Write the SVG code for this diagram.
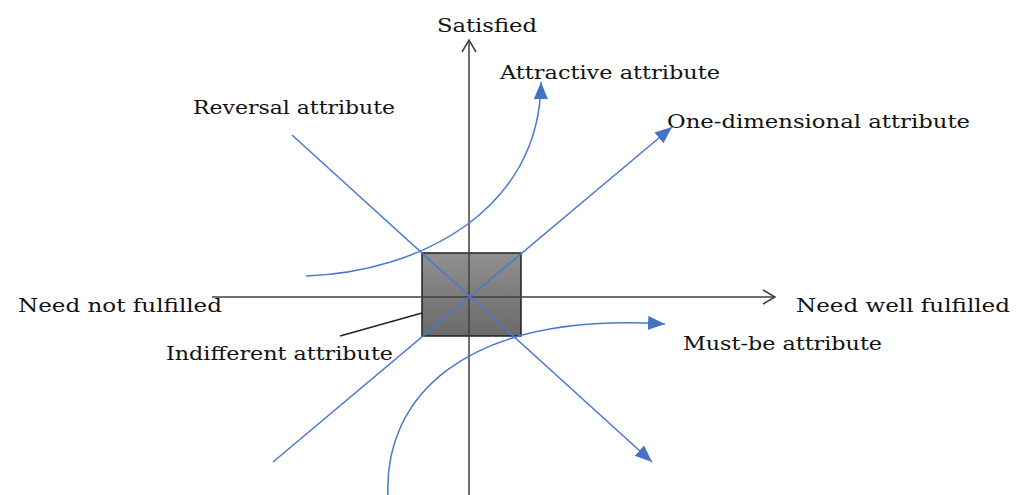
<svg xmlns="http://www.w3.org/2000/svg" width="1025" height="495" viewBox="0 0 1025 495">
<style>
text{font-family:"DejaVu Serif","Liberation Serif",serif;font-size:19px;fill:#111}
.axis{stroke:#404040;stroke-width:1.5;fill:none}
.blue{stroke:#4a78cc;stroke-width:1.5;fill:none}
</style>
<defs>
<linearGradient id="g" x1="0" y1="0" x2="0" y2="1">
<stop offset="0" stop-color="#909090"/>
<stop offset="1" stop-color="#6a6a6a"/>
</linearGradient>
<marker id="open" markerWidth="16" markerHeight="16" refX="13" refY="8" orient="auto" markerUnits="userSpaceOnUse">
<path d="M1,1 L13,8 L1,15" fill="none" stroke="#404040" stroke-width="1.5"/>
</marker>
<marker id="fill" markerWidth="20" markerHeight="20" refX="17" refY="10" orient="auto" markerUnits="userSpaceOnUse">
<path d="M0,3 L17,10 L0,17 Z" fill="#4472c4"/>
</marker>
</defs>
<g id="box"><rect x="422" y="253" width="99" height="83" fill="url(#g)" stroke="#222" stroke-width="1.5"/></g>
<g id="connectors">
<line class="axis" x1="212" y1="297" x2="775" y2="297" marker-end="url(#open)"/>
<line class="axis" x1="469" y1="495" x2="469" y2="40" marker-end="url(#open)"/>
<line x1="340" y1="336" x2="422" y2="313" stroke="#222" stroke-width="1.5"/>
<line class="blue" x1="292" y1="135" x2="652" y2="462" marker-end="url(#fill)"/>
<line class="blue" x1="273" y1="462" x2="672" y2="127" marker-end="url(#fill)"/>
<path class="blue" d="M306,276 C420,272 540,210 541,82" marker-end="url(#fill)"/>
<path class="blue" d="M388,495 C384,400 460,312 665,324" marker-end="url(#fill)"/>
</g>
<g id="satisfied"><text x="437" y="32" textLength="100" lengthAdjust="spacingAndGlyphs">Satisfied</text></g>
<g id="attractive"><text x="500" y="79" textLength="220" lengthAdjust="spacingAndGlyphs">Attractive attribute</text></g>
<g id="reversal"><text x="193" y="114" textLength="202" lengthAdjust="spacingAndGlyphs">Reversal attribute</text></g>
<g id="onedim"><text x="667" y="128" textLength="303" lengthAdjust="spacingAndGlyphs">One-dimensional attribute</text></g>
<g id="notfulfilled"><text x="18" y="312" textLength="204" lengthAdjust="spacingAndGlyphs">Need not fulfilled</text></g>
<g id="wellfulfilled"><text x="796" y="312" textLength="214" lengthAdjust="spacingAndGlyphs">Need well fulfilled</text></g>
<g id="indifferent"><text x="166" y="360" textLength="227" lengthAdjust="spacingAndGlyphs">Indifferent attribute</text></g>
<g id="mustbe"><text x="683" y="350" textLength="199" lengthAdjust="spacingAndGlyphs">Must-be attribute</text></g>
</svg>
